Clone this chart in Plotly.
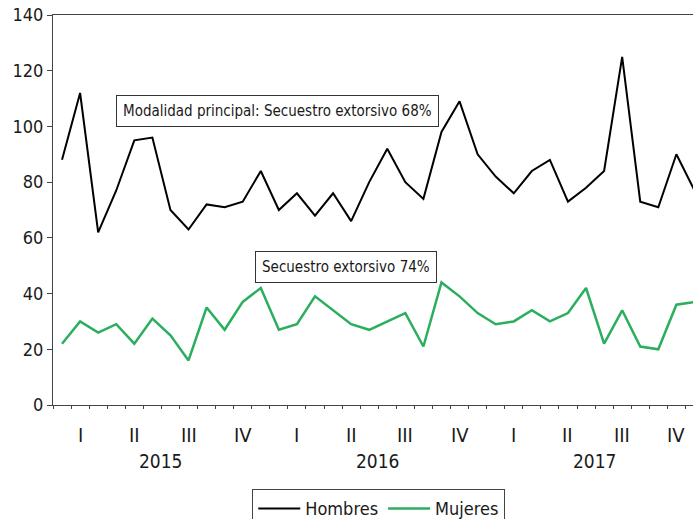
import plotly.graph_objects as go

# Monthly data Jan 2015 - Dec 2017
hombres = [88, 112, 62, 77, 95, 96, 70, 63, 72, 71, 73, 84,
           70, 76, 68, 76, 66, 80, 92, 80, 74, 98, 109, 90,
           82, 76, 84, 88, 73, 78, 84, 125, 73, 71, 90, 77]
mujeres = [22, 30, 26, 29, 22, 31, 25, 16, 35, 27, 37, 42,
           27, 29, 39, 34, 29, 27, 30, 33, 21, 44, 39, 33,
           29, 30, 34, 30, 33, 42, 22, 34, 21, 20, 36, 37]
quarter_labels = ["I", "II", "III", "IV"]
years = ["2015", "2016", "2017"]
annot_h = "Modalidad principal: Secuestro extorsivo 68%"
annot_m = "Secuestro extorsivo 74%"

months = list(range(len(hombres)))
FONT = "Liberation Sans Narrow, Arial Narrow, DejaVu Sans Condensed, Liberation Sans, Arial, sans-serif"

fig = go.Figure()
fig.add_trace(go.Scatter(x=months, y=hombres, mode="lines", name="Hombres",
                         line=dict(color="black", width=2)))
fig.add_trace(go.Scatter(x=months, y=mujeres, mode="lines", name="Mujeres",
                         line=dict(color="#2BAE5E", width=2.5)))

annotations = []
for yi, yr in enumerate(years):
    for qi, q in enumerate(quarter_labels):
        annotations.append(dict(x=yi * 12 + qi * 3 + 1, y=-0.04, xref="x", yref="paper",
                                text=q, showarrow=False, yanchor="top",
                                font=dict(size=20, color="#1a1a1a", family=FONT)))
    annotations.append(dict(x=yi * 12 + 5.5, y=-0.11, xref="x", yref="paper",
                            text=yr, showarrow=False, yanchor="top",
                            font=dict(size=19, color="#1a1a1a", family=FONT)))

annotations.append(dict(x=11.9, y=105.5, xref="x", yref="y", text=annot_h, showarrow=False,
                        bordercolor="#333", borderwidth=1, borderpad=6, bgcolor="white",
                        font=dict(size=15, color="#1a1a1a", family=FONT)))
annotations.append(dict(x=15.7, y=49.7, xref="x", yref="y", text=annot_m, showarrow=False,
                        bordercolor="#333", borderwidth=1, borderpad=6, bgcolor="white",
                        font=dict(size=15, color="#1a1a1a", family=FONT)))

fig.update_layout(
    width=693, height=519,
    margin=dict(l=53, r=0, t=15, b=114, autoexpand=False),
    plot_bgcolor="white", paper_bgcolor="white",
    font=dict(family=FONT, size=18, color="#1a1a1a"),
    showlegend=True,
    legend=dict(orientation="h", x=0.509, xanchor="center", y=-0.216, yanchor="top",
                bordercolor="#444", borderwidth=1, font=dict(size=18),
                itemwidth=42, tracegroupgap=0),
    annotations=annotations,
)
fig.update_xaxes(range=[-0.5, 34.92], showgrid=False, zeroline=False, automargin=False,
                 showline=True, linecolor="#444", linewidth=1, mirror=True,
                 tickmode="array", tickvals=[-0.5 + 3 * k for k in range(13)],
                 ticktext=[""] * 13, ticks="outside", ticklen=7, tickcolor="#444",
                 minor=dict(tickmode="array", tickvals=[-0.5 + k for k in range(37)],
                            ticks="outside", ticklen=3, tickcolor="#444"))
fig.update_yaxes(range=[0, 140], tickvals=[0, 20, 40, 60, 80, 100, 120, 140],
                 showgrid=False, zeroline=False, showline=True, linecolor="#444",
                 automargin=False,
                 linewidth=1, ticks="outside", ticklen=5, tickcolor="#444",
                 tickfont=dict(size=18))

fig.write_html("out.html", config={"displayModeBar": False},
               post_script="document.body.style.margin='0';document.body.style.overflow='hidden';")
